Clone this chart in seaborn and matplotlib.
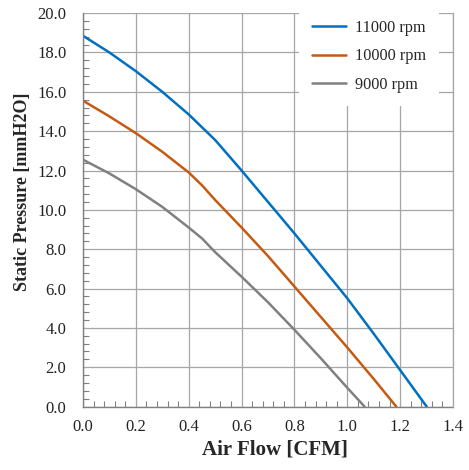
import pandas as pd
import matplotlib
matplotlib.use("Agg")
import matplotlib.pyplot as plt
import seaborn as sns
from matplotlib.ticker import MultipleLocator, FormatStrFormatter

# Fan P-Q curves
flow_11000 = [0.0, 0.1, 0.2, 0.3, 0.4, 0.5, 0.6, 0.7, 0.8, 0.9, 1.0, 1.1, 1.2, 1.3]
pres_11000 = [18.85, 18.0, 17.05, 16.0, 14.85, 13.55, 12.0, 10.4, 8.8, 7.15, 5.5, 3.7, 1.85, 0.0]

flow_10000 = [0.0, 0.1, 0.2, 0.3, 0.4, 0.45, 0.5, 0.6, 0.7, 0.8, 0.9, 1.0, 1.1, 1.185]
pres_10000 = [15.55, 14.75, 13.9, 12.95, 11.9, 11.25, 10.5, 9.1, 7.65, 6.1, 4.55, 3.0, 1.4, 0.0]

flow_9000 = [0.0, 0.1, 0.2, 0.3, 0.4, 0.45, 0.5, 0.6, 0.7, 0.8, 0.9, 1.0, 1.065]
pres_9000 = [12.55, 11.85, 11.05, 10.15, 9.1, 8.55, 7.85, 6.6, 5.3, 3.9, 2.45, 0.95, 0.0]

series_names = ["11000 rpm", "10000 rpm", "9000 rpm"]
series_colors = ["#0070C0", "#C55A11", "#808080"]

rows = []
for name, xs, ys in zip(series_names,
                        [flow_11000, flow_10000, flow_9000],
                        [pres_11000, pres_10000, pres_9000]):
    for x, y in zip(xs, ys):
        rows.append({"Air Flow": x, "Static Pressure": y, "Speed": name})
df = pd.DataFrame(rows)

sns.set_theme(style="white")
plt.rcParams["font.family"] = ["Liberation Serif", "DejaVu Serif"]

fig = plt.figure(figsize=(4.69, 4.70), dpi=100)
ax = fig.add_axes([0.177, 0.135, 0.789, 0.837])

sns.lineplot(data=df, x="Air Flow", y="Static Pressure", hue="Speed",
             hue_order=series_names, palette=series_colors, linewidth=1.8,
             sort=False, estimator=None, ax=ax)

ax.set_xlim(0, 1.4)
ax.set_ylim(0, 20)
ax.xaxis.set_major_locator(MultipleLocator(0.2))
ax.xaxis.set_minor_locator(MultipleLocator(0.04))
ax.yaxis.set_major_locator(MultipleLocator(2.0))
ax.yaxis.set_minor_locator(MultipleLocator(0.4))
ax.xaxis.set_major_formatter(FormatStrFormatter("%.1f"))
ax.yaxis.set_major_formatter(FormatStrFormatter("%.1f"))

ax.grid(True, which="major", color="#A6A6A6", linewidth=0.9)
ax.set_axisbelow(True)
ax.spines["top"].set_visible(False)
# right edge line stays visible through the legend box, like the original
ax.spines["right"].set_color("#A6A6A6")
ax.spines["right"].set_linewidth(0.9)
ax.spines["right"].set_zorder(6)
for side in ["left", "bottom"]:
    ax.spines[side].set_color("#808080")
    ax.spines[side].set_linewidth(1.0)

ax.tick_params(which="major", direction="out", length=3.5, width=0.9,
               color="#808080", labelsize=12, labelcolor="#222222")
ax.tick_params(axis="y", which="major", pad=8.5)
ax.tick_params(axis="x", which="major", pad=5.5)
ax.tick_params(which="minor", direction="in", length=4, width=0.8,
               color="#808080", left=True, bottom=True)
ax.tick_params(which="both", right=False)

ax.set_xlabel("Air Flow [CFM]", fontsize=15, fontweight="bold")
ax.set_ylabel("Static Pressure [mmH2O]", fontsize=13, fontweight="bold")
ax.xaxis.set_label_coords(0.518, -0.085)
ax.yaxis.set_label_coords(-0.14, 0.545)

leg = ax.legend(loc="upper left", bbox_to_anchor=(0.637, 0.986),
                bbox_transform=fig.transFigure, fontsize=11.7,
                frameon=True, facecolor="white", edgecolor="none", framealpha=1.0,
                handlelength=2.1, labelspacing=0.78, borderpad=0.8,
                handletextpad=0.55, borderaxespad=0)
for line in leg.get_lines():
    line.set_linewidth(1.8)

fig.savefig("out.png", dpi=100)
plt.close(fig)
